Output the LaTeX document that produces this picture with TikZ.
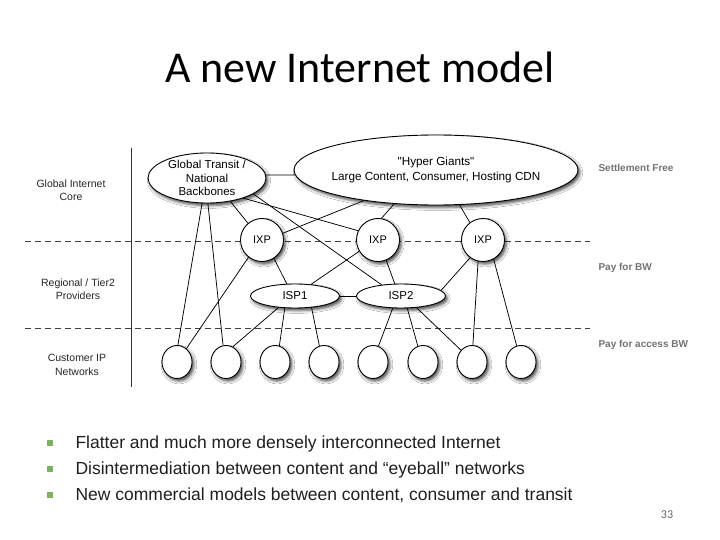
\documentclass[tikz,border=0pt]{standalone}
\usepackage{fontspec}
\setmainfont{Liberation Sans}
\newfontfamily\titlefont{Carlito}
\usetikzlibrary{shapes.geometric,shadows.blur}
\definecolor{bulletgreen}{RGB}{128,176,96}
\tikzset{
  net/.style={draw=black, line width=0.9pt, fill=white, inner sep=0pt,
    blur shadow={shadow xshift=2pt, shadow yshift=-2.6pt, shadow blur radius=2.8pt, shadow opacity=70}},
  oval/.style={net, ellipse},
  ixpnode/.style={net, circle, minimum size=43pt, font=\fontsize{11}{13}\selectfont},
  ispnode/.style={net, ellipse, minimum width=89pt, minimum height=24pt, font=\fontsize{11.5}{13}\selectfont},
  cust/.style={net, ellipse, minimum width=30pt, minimum height=33pt},
  nodetext/.style={align=center, inner sep=0pt},
  link/.style={line width=0.75pt},
  tier/.style={dash pattern=on 6pt off 4pt, line width=0.9pt, black!75},
  lefttxt/.style={align=center, font=\fontsize{10.5}{13.5}\selectfont, text=black!85},
  righttxt/.style={anchor=west, font=\bfseries\fontsize{10}{12}\selectfont, text=black!55},
  bullettxt/.style={anchor=base west, font=\fontsize{17.5}{20}\selectfont, text=black!88},
  bulletsq/.style={fill=bulletgreen, minimum size=6pt, inner sep=0pt},
}
\begin{document}
\begin{tikzpicture}[x=1pt,y=-1pt]
\fill[white] (0,0) rectangle (720,540);
\useasboundingbox (0,0) rectangle (720,540);

% title
\node[anchor=base, font=\titlefont\fontsize{44}{50}\selectfont] (title) at (360,83) {A new Internet model};

% tier separators
\coordinate (d1l) at (25,241); \coordinate (d1r) at (590,241);
\coordinate (d2l) at (25,328); \coordinate (d2r) at (590,328);
\coordinate (vt) at (131,148); \coordinate (vb) at (131,387);
\draw[tier] (d1l) -- (d1r);
\draw[tier] (d2l) -- (d2r);
\draw[line width=0.8pt, black!80] (vt) -- (vb);

% left tier labels
\node[lefttxt] (lcore) at (71,190) {Global Internet\\Core};
\node[lefttxt] (lreg) at (78,289) {Regional / Tier2\\Providers};
\node[lefttxt] (lcust) at (77,365) {Customer IP\\Networks};

% right labels
\node[righttxt] (rsf) at (595,168) {Settlement Free};
\node[righttxt] (rbw) at (595,268) {Pay for BW};
\node[righttxt] (racc) at (595,345) {Pay for access BW};

% core nodes
\node[oval, minimum width=118pt, minimum height=50pt,
  label={[nodetext, font=\fontsize{11.5}{13.5}\selectfont]center:Global Transit /\\National\\Backbones}] (gt) at (207,178) {};
\node[oval, minimum width=284pt, minimum height=70pt,
  label={[nodetext, font=\fontsize{11.7}{15}\selectfont]center:\textquotedbl Hyper Giants\textquotedbl\\Large Content, Consumer, Hosting CDN}] (hg) at (436,170) {};

% IXPs
\node[ixpnode] (ixp1) at (262,240) {IXP};
\node[ixpnode] (ixp2) at (378,240) {IXP};
\node[ixpnode] (ixp3) at (483,240) {IXP};

% ISPs
\node[ispnode] (isp1) at (295,296) {ISP1};
\node[ispnode] (isp2) at (401,296) {ISP2};

% customer networks
\node[cust] (c1) at (177,362) {};
\node[cust] (c2) at (226,362) {};
\node[cust] (c3) at (275,362) {};
\node[cust] (c4) at (324,362) {};
\node[cust] (c5) at (373,362) {};
\node[cust] (c6) at (423,362) {};
\node[cust] (c7) at (472,362) {};
\node[cust] (c8) at (521,362) {};

% links
\draw[link] (gt.3) -- (hg.182);
\draw[link] (gt.315) -- (ixp1.130);
\draw[link] (gt.331) -- (ixp2.155);
\draw[link] (gt.341) -- (isp2.150);
\draw[link] (gt.259) -- (c1.87);
\draw[link] (gt.272) -- (c2.100);

\draw[link] (hg.203) -- (ixp1.18);
\draw[link] (hg.219) -- (ixp2.81);
\draw[link] (hg.304) -- (ixp3.127);

\draw[link] (ixp1.303) -- (isp1.124);
\draw[link] (ixp1.232) -- (c1.55);

\draw[link] (ixp2.211) -- (isp1.36);
\draw[link] (ixp2.292) -- (isp2.117);

\draw[link] (ixp3.234) -- (isp2.8);
\draw[link] (ixp3.257) -- (c7.87);
\draw[link] (ixp3.299) -- (c8.105);

\draw[link] (isp1.east) -- (isp2.west);
\draw[link] (isp1.215) -- (c2.66);
\draw[link] (isp1.230) -- (c3.75);
\draw[link] (isp1.325) -- (c4.106);

\draw[link] (isp2.236) -- (c5.71);
\draw[link] (isp2.297) -- (c6.108);
\draw[link] (isp2.323) -- (c7.133);

% bullets
\node[bulletsq] (b1) at (50,443) {};
\node[bulletsq] (b2) at (50,469) {};
\node[bulletsq] (b3) at (50,495) {};
\node[bullettxt] (t1) at (72,448) {Flatter and much more densely interconnected Internet};
\node[bullettxt] (t2) at (72,474) {Disintermediation between content and “eyeball” networks};
\node[bullettxt] (t3) at (72,500) {New commercial models between content, consumer and transit};

% page number
\node[font=\titlefont\fontsize{12}{14}\selectfont, text=black!60] (pg) at (667,515) {33};
\end{tikzpicture}
\end{document}
